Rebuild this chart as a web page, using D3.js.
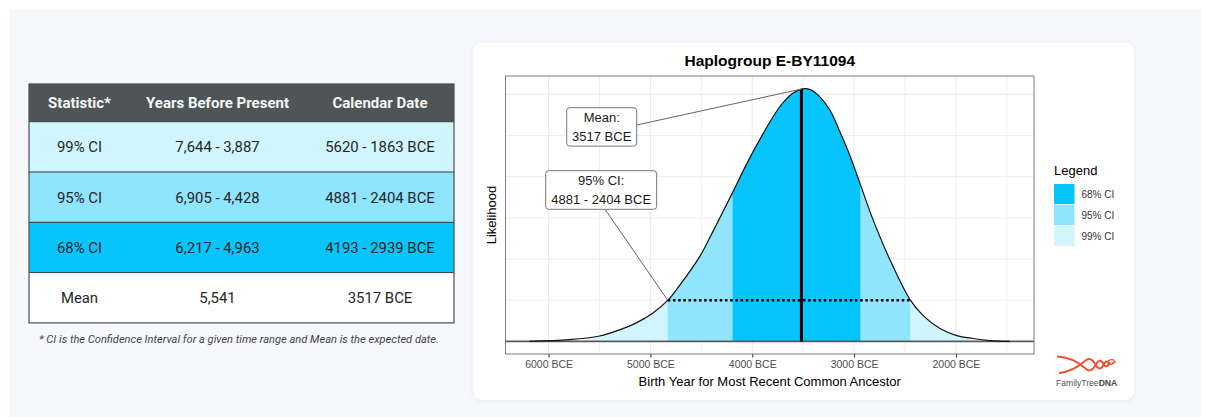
<!DOCTYPE html>
<html>
<head>
<meta charset="utf-8">
<script src="https://cdn.jsdelivr.net/npm/d3@7"></script>
<style>
  body { margin: 0; background: #fff; }
  svg { display: block; }
  .tbl text { font-family: Roboto, "Noto Sans", sans-serif; }
  .plot text { font-family: "Liberation Sans", Arial, Helvetica, sans-serif; }
</style>
</head>
<body>
<main></main>
<script>
// table values
const tableHeaders = ["Statistic*", "Years Before Present", "Calendar Date"];
const tableStats = ["99% CI", "95% CI", "68% CI", "Mean"];
const yearsBeforePresent = ["7,644 - 3,887", "6,905 - 4,428", "6,217 - 4,963", "5,541"];
const calendarDates = ["5620 - 1863 BCE", "4881 - 2404 BCE", "4193 - 2939 BCE", "3517 BCE"];
const footnote = "* CI is the Confidence Interval for a given time range and Mean is the expected date.";

// density curve (year BCE, likelihood x 1e-4)
const curveYears = [6187, 5794, 5499, 5302, 5138, 4975, 4828, 4713, 4516, 4388, 4192, 4057, 3897, 3730, 3602, 3517, 3470, 3406, 3340, 3238, 3140, 3042, 2944, 2816, 2649, 2452, 2324, 2157, 1993, 1833, 1666, 1469];
const curveDensity = [0, 0.04, 0.13, 0.28, 0.45, 0.69, 1.00, 1.36, 2.06, 2.66, 3.62, 4.30, 5.03, 5.70, 6.03, 6.13, 6.14, 6.09, 5.95, 5.62, 5.10, 4.52, 3.85, 2.97, 1.99, 1.02, 0.63, 0.31, 0.14, 0.07, 0.02, 0];

// shaded bands as drawn in the chart
const ciLabels = ["99% CI", "95% CI", "68% CI"];
const ciFrom = [5620, 4830, 4193];
const ciTo = [1863, 2450, 2939];
const dotLevel = 1.0;
const meanYear = 3517;

const xTicks = [6000, 5000, 4000, 3000, 2000];
const xMinor = [5500, 4500, 3500, 2500, 1500];
const yMajor = [0, 2, 4, 6];
const yMinor = [1, 3, 5];

const chartTitle = "Haplogroup E-BY11094";
const xTitle = "Birth Year for Most Recent Common Ancestor";
const yTitle = "Likelihood";
const meanLabel = ["Mean:", "3517 BCE"];
const ciLabel = ["95% CI:", "4881 - 2404 BCE"];
const legendOrder = ["68% CI", "95% CI", "99% CI"];

const colors = {
  "99% CI": "#d1f5fe",
  "95% CI": "#8fe4fe",
  "68% CI": "#07c5fb",
  "Mean": "#ffffff"
};

const W = 1210, H = 417;
const panel = { left: 505.5, right: 1034, top: 76, bottom: 354 };

const createCanvas = () => {
  const svg = d3.select("main")
    .append("svg")
    .attr("width", W)
    .attr("height", H);

  const defs = svg.append("defs");
  const f = defs.append("filter").attr("id", "shadow")
    .attr("x", "-5%").attr("y", "-5%").attr("width", "110%").attr("height", "110%");
  f.append("feDropShadow")
    .attr("dx", 0).attr("dy", 1).attr("stdDeviation", 2)
    .attr("flood-color", "#8890a8").attr("flood-opacity", 0.18);

  svg.append("rect")
    .attr("x", 9).attr("y", 9)
    .attr("width", W - 18).attr("height", H - 9)
    .attr("fill", "#f7f8fc");
  return svg;
};

const createTable = (svg) => {
  const g = svg.append("g").attr("class", "tbl");
  const x0 = 29, y0 = 84, w = 425, headH = 37.7, rowH = 50.3;
  const cols = [79.5, 217.5, 380];

  g.append("rect")
    .attr("x", x0).attr("y", y0).attr("width", w).attr("height", headH)
    .attr("fill", "#4f5556");

  g.selectAll(".head")
    .data(tableHeaders)
    .enter()
    .append("text")
    .attr("x", (d, i) => cols[i])
    .attr("y", y0 + headH / 2)
    .attr("dy", "0.36em")
    .attr("text-anchor", "middle")
    .style("font-size", "15px")
    .style("font-weight", 700)
    .style("fill", "#f4f6f6")
    .text(d => d);

  const rows = g.selectAll(".row")
    .data(tableStats)
    .enter()
    .append("g")
    .attr("transform", (d, i) => "translate(0," + (y0 + headH + i * rowH) + ")");

  rows.append("rect")
    .attr("x", x0).attr("width", w).attr("height", rowH)
    .attr("fill", d => colors[d]);

  rows.append("line")
    .attr("x1", x0).attr("x2", x0 + w)
    .attr("y1", 0).attr("y2", 0)
    .attr("stroke", "#2e3b3e").attr("stroke-width", 1);

  rows.each(function (d, i) {
    const vals = [d, yearsBeforePresent[i], calendarDates[i]];
    d3.select(this).selectAll("text")
      .data(vals)
      .enter()
      .append("text")
      .attr("x", (v, j) => cols[j])
      .attr("y", rowH / 2)
      .attr("dy", "0.36em")
      .attr("text-anchor", "middle")
      .style("font-size", "14.9px")
      .style("fill", "#262626")
      .text(v => v);
  });

  g.append("rect")
    .attr("x", x0).attr("y", y0)
    .attr("width", w).attr("height", headH + rowH * tableStats.length)
    .attr("fill", "none")
    .attr("stroke", "#4a4f50").attr("stroke-width", 1.2);

  g.append("text")
    .attr("x", 39).attr("y", 339)
    .attr("dy", "0.36em")
    .style("font-size", "11.1px")
    .style("font-style", "italic")
    .style("fill", "#444")
    .text(footnote);
};

const createCard = (svg) => {
  svg.append("rect")
    .attr("x", 473).attr("y", 42.5)
    .attr("width", 661).attr("height", 357.5)
    .attr("rx", 9)
    .attr("fill", "#fff")
    .attr("filter", "url(#shadow)");
};

const createGraph = (svg) => {
  const g = svg.append("g").attr("class", "plot");

  const ext = d3.extent(curveYears);
  const padX = (ext[1] - ext[0]) * 0.05;
  const x = d3.scaleLinear()
    .domain([ext[1] + padX, ext[0] - padX])
    .range([panel.left, panel.right]);
  const yMax = d3.max(curveDensity);
  const padY = yMax * 0.05;
  const y = d3.scaleLinear()
    .domain([-padY, yMax + padY])
    .range([panel.bottom, panel.top]);

  const pts = curveYears.map((yr, i) => ({ yr: yr, d: curveDensity[i] }));

  // grid
  const grid = g.append("g");
  grid.selectAll(".vmin").data(xMinor).enter().append("line")
    .attr("x1", d => x(d)).attr("x2", d => x(d))
    .attr("y1", panel.top).attr("y2", panel.bottom)
    .attr("stroke", "#f0f0f0").attr("stroke-width", 1);
  grid.selectAll(".hmin").data(yMinor).enter().append("line")
    .attr("x1", panel.left).attr("x2", panel.right)
    .attr("y1", d => y(d)).attr("y2", d => y(d))
    .attr("stroke", "#f0f0f0").attr("stroke-width", 1);
  grid.selectAll(".vmaj").data(xTicks).enter().append("line")
    .attr("x1", d => x(d)).attr("x2", d => x(d))
    .attr("y1", panel.top).attr("y2", panel.bottom)
    .attr("stroke", "#ebebeb").attr("stroke-width", 1.1);
  grid.selectAll(".hmaj").data(yMajor).enter().append("line")
    .attr("x1", panel.left).attr("x2", panel.right)
    .attr("y1", d => y(d)).attr("y2", d => y(d))
    .attr("stroke", "#ebebeb").attr("stroke-width", 1.1);

  // bands clipped by the area under the curve
  const smooth = d3.curveCatmullRom.alpha(0.5);
  const area = d3.area()
    .x(d => x(d.yr))
    .y0(y(0))
    .y1(d => y(d.d))
    .curve(smooth);
  svg.select("defs").append("clipPath").attr("id", "under")
    .append("path").attr("d", area(pts));

  g.append("g").attr("clip-path", "url(#under)")
    .selectAll("rect")
    .data(ciLabels)
    .enter()
    .append("rect")
    .attr("x", (d, i) => x(ciFrom[i]))
    .attr("width", (d, i) => x(ciTo[i]) - x(ciFrom[i]))
    .attr("y", panel.top)
    .attr("height", panel.bottom - panel.top)
    .attr("fill", d => colors[d]);

  g.append("line")
    .attr("x1", panel.left).attr("x2", panel.right)
    .attr("y1", y(0)).attr("y2", y(0))
    .attr("stroke", "#5a5a5a").attr("stroke-width", 1.6);

  const line = d3.line()
    .x(d => x(d.yr))
    .y(d => y(d.d))
    .curve(smooth);
  g.append("path")
    .attr("d", line(pts))
    .attr("fill", "none")
    .attr("stroke", "#111").attr("stroke-width", 1.2);

  g.append("line")
    .attr("x1", x(ciFrom[1])).attr("x2", x(ciTo[1]))
    .attr("y1", y(dotLevel)).attr("y2", y(dotLevel))
    .attr("stroke", "#000").attr("stroke-width", 2.6)
    .attr("stroke-dasharray", "2.6,2.6");

  const meanTop = curveDensity[curveYears.indexOf(meanYear)];
  g.append("line")
    .attr("x1", x(meanYear)).attr("x2", x(meanYear))
    .attr("y1", y(0)).attr("y2", y(meanTop))
    .attr("stroke", "#000").attr("stroke-width", 3);

  // annotations
  const boxes = [
    { lines: meanLabel, bx: 566.7, by: 107.7, bw: 70, bh: 38.4, from: [636.7, 125], to: [x(meanYear), y(meanTop)] },
    { lines: ciLabel, bx: 545.7, by: 170.7, bw: 111, bh: 38.6, from: [605, 209.3], to: [x(ciFrom[1]), y(dotLevel)] }
  ];
  boxes.forEach(b => {
    g.append("line")
      .attr("x1", b.from[0]).attr("y1", b.from[1])
      .attr("x2", b.to[0]).attr("y2", b.to[1])
      .attr("stroke", "#666").attr("stroke-width", 1);
  });
  boxes.forEach(b => {
    g.append("rect")
      .attr("x", b.bx).attr("y", b.by)
      .attr("width", b.bw).attr("height", b.bh)
      .attr("rx", 3)
      .attr("fill", "#fff")
      .attr("stroke", "#666").attr("stroke-width", 0.9);
    b.lines.forEach((t, i) => {
      g.append("text")
        .attr("x", b.bx + b.bw / 2)
        .attr("y", b.by + 10 + i * 18.4)
        .attr("dy", "0.36em")
        .attr("text-anchor", "middle")
        .style("font-size", "13px")
        .style("fill", "#1a1a1a")
        .text(t);
    });
  });

  // panel border
  g.append("rect")
    .attr("x", panel.left).attr("y", panel.top)
    .attr("width", panel.right - panel.left)
    .attr("height", panel.bottom - panel.top)
    .attr("fill", "none")
    .attr("stroke", "#7d7d7d").attr("stroke-width", 1);

  // x axis
  const xAxis = d3.axisBottom(x)
    .tickValues(xTicks)
    .tickSize(3.5)
    .tickPadding(3.5)
    .tickFormat(d => d + " BCE");
  const ax = g.append("g")
    .attr("transform", "translate(0," + panel.bottom + ")")
    .call(xAxis);
  ax.select(".domain").remove();
  ax.selectAll(".tick line").attr("stroke", "#333");
  ax.selectAll(".tick text")
    .style("font-family", "'Liberation Sans', Arial, sans-serif")
    .style("font-size", "10.5px")
    .style("fill", "#4d4d4d");

  g.append("text")
    .attr("x", (panel.left + panel.right) / 2)
    .attr("y", 60)
    .attr("dy", "0.36em")
    .attr("text-anchor", "middle")
    .style("font-size", "15.5px")
    .style("font-weight", 700)
    .text(chartTitle);

  g.append("text")
    .attr("x", (panel.left + panel.right) / 2)
    .attr("y", 381)
    .attr("dy", "0.36em")
    .attr("text-anchor", "middle")
    .style("font-size", "13px")
    .text(xTitle);

  g.append("text")
    .attr("transform", "translate(491," + (panel.top + panel.bottom) / 2 + ") rotate(-90)")
    .attr("dy", "0.36em")
    .attr("text-anchor", "middle")
    .style("font-size", "13px")
    .text(yTitle);

  // legend
  const lg = g.append("g").attr("transform", "translate(1054,0)");
  lg.append("text")
    .attr("x", 0).attr("y", 170.7)
    .attr("dy", "0.36em")
    .style("font-size", "13px")
    .text("Legend");
  const items = lg.selectAll(".item")
    .data(legendOrder)
    .enter()
    .append("g")
    .attr("transform", (d, i) => "translate(0," + (184 + i * 21) + ")");
  items.append("rect")
    .attr("width", 20.5).attr("height", 20.2)
    .attr("fill", d => colors[d]);
  items.append("text")
    .attr("x", 27.5).attr("y", 10.3)
    .attr("dy", "0.36em")
    .style("font-size", "10px")
    .style("fill", "#333")
    .text(d => d);
};

const createLogo = (svg) => {
  const g = svg.append("g").attr("class", "plot");
  const red = "#f0502a";
  g.append("path")
    .attr("d", "M1057,356.5 C1070,357 1078,362 1085,368 C1089,372 1092,371 1095,366 C1098,360 1101,359 1103.5,364 C1105.5,368 1108,367 1110,362.5")
    .attr("fill", "none").attr("stroke", red).attr("stroke-width", 1.9);
  g.append("path")
    .attr("d", "M1059,373 C1070,372 1078,367 1085,361 C1089,357.5 1092,358.5 1095,364 C1098,369.5 1101,370 1103.5,365 C1105.5,360.5 1108,360.5 1110,364")
    .attr("fill", "none").attr("stroke", red).attr("stroke-width", 1.9);
  g.append("path")
    .attr("d", "M1108,361 C1111,358.5 1115,359.5 1114,362.5 C1113,365 1109,365 1107.5,363 M1112,363 L1116,362")
    .attr("fill", "none").attr("stroke", red).attr("stroke-width", 1.2);
  const t = g.append("text")
    .attr("x", 1056).attr("y", 382.7)
    .attr("dy", "0.36em")
    .style("font-size", "8.6px")
    .style("fill", "#555");
  t.append("tspan").text("FamilyTree");
  t.append("tspan").style("font-weight", 700).style("fill", "#444").text("DNA");
};

const driver = () => {
  const svg = createCanvas();
  createTable(svg);
  createCard(svg);
  createGraph(svg);
  createLogo(svg);
};

driver();
</script>
</body>
</html>
